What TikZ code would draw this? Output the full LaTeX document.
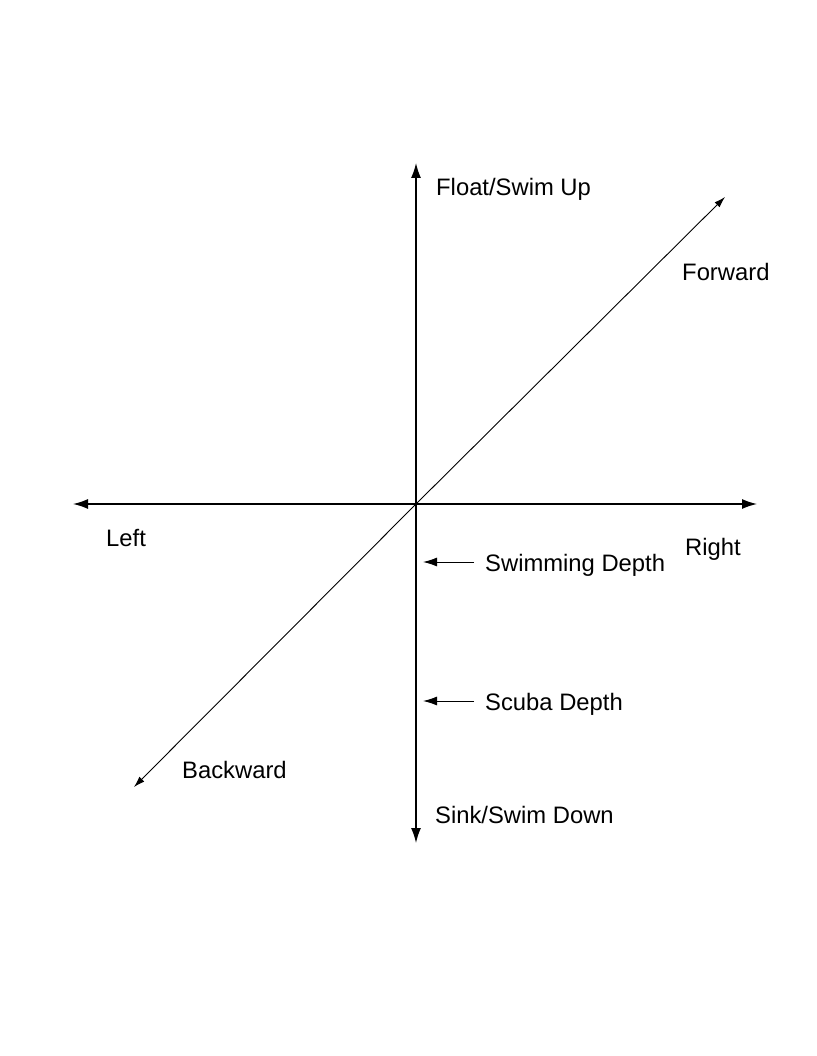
\documentclass[tikz,border=0pt]{standalone}
\usepackage{fontspec}
\setmainfont{Liberation Sans}
\usetikzlibrary{positioning, calc, arrows.meta}

\begin{document}
\begin{tikzpicture}[
  x=1pt, y=-1pt,
  >=Latex,
  axis/.style={line width=1.4pt, -{Latex[length=15pt, width=10pt]}},
  diag/.style={line width=0.9pt, -{Latex[length=11pt, width=7pt]}},
  pointer/.style={line width=1pt, -{Latex[length=14pt, width=9pt]}},
  lbl/.style={inner sep=0pt, anchor=base west, font=\fontsize{23.8}{28}\selectfont}
]
\useasboundingbox (0,0) rectangle (816,1056);

%--------------------------------------
% Axis end points
%--------------------------------------
\coordinate (origin) at (416,504);
\coordinate (up) at (416,163);
\coordinate (down) at (416,843);
\coordinate (left) at (73,504);
\coordinate (right) at (757,504);
\coordinate (forward) at (725,197);
\coordinate (backward) at (134,787);

%--------------------------------------
% Axes
%--------------------------------------
\draw[axis] (origin) -- (up);
\draw[axis] (origin) -- (down);
\draw[axis] (origin) -- (left);
\draw[axis] (origin) -- (right);
\draw[diag] (origin) -- (forward);
\draw[diag] (origin) -- (backward);

%--------------------------------------
% Direction labels
%--------------------------------------
\node[lbl] (uptext) at (436,196) {Float/Swim Up};
\node[lbl] (downtext) at (435,823) {Sink/Swim Down};
\node[lbl] (lefttext) at (106,546) {Left};
\node[lbl] (righttext) at (685,555) {Right};
\node[lbl] (fwdtext) at (682,280) {Forward};
\node[lbl] (backtext) at (182,778) {Backward};

%--------------------------------------
% Depth markers
%--------------------------------------
\node[lbl] (swimtext) at (485,571) {Swimming Depth};
\node[lbl] (scubatext) at (485,710) {Scuba Depth};

\coordinate (swimtail) at (474,562);
\coordinate (swimtip) at (423,562);
\coordinate (scubatail) at (474,701);
\coordinate (scubatip) at (423,701);

\draw[pointer] (swimtail) -- (swimtip);
\draw[pointer] (scubatail) -- (scubatip);

\end{tikzpicture}
\end{document}
